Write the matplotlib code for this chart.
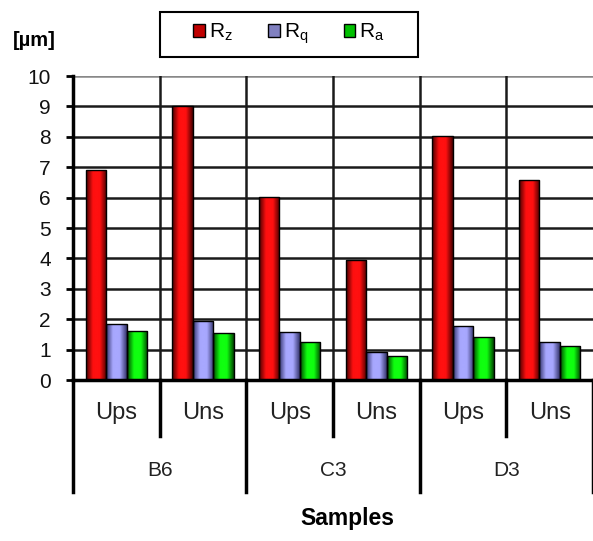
#!/usr/bin/env python3
"""
Roughness parameters Rz, Rq, Ra per sample (Ups / Uns) as grouped bars.
"""

import numpy as np
import matplotlib.pyplot as plt
from matplotlib.colors import LinearSegmentedColormap
from matplotlib.patches import Patch, Rectangle
from matplotlib.transforms import blended_transform_factory

plt.rcParams["font.family"] = ["Liberation Sans", "DejaVu Sans"]

# ---- data ----
SAMPLES = ["B6", "C3", "D3"]
SIDES = ["Ups", "Uns"]
RZ = [6.9, 9.0, 6.02, 3.95, 8.03, 6.58]
RQ = [1.84, 1.93, 1.58, 0.92, 1.78, 1.25]
RA = [1.6, 1.55, 1.25, 0.79, 1.41, 1.12]
SERIES_LABELS = [r"$\mathregular{R_z}$", r"$\mathregular{R_q}$", r"$\mathregular{R_a}$"]
Y_TICKS = list(range(0, 11))

# (edge colour, centre colour) for the cylinder-like shading
SHADES = [
    ("#4a0000", "#ff1010"),
    ("#34346c", "#a8a8ff"),
    ("#004400", "#10ff10"),
]
LEGEND_FACE = ["#c00000", "#8080c0", "#00c000"]


def shade_bar(ax, bar, edge, centre):
    cmap = LinearSegmentedColormap.from_list("s", [edge, centre, centre, edge])
    grad = np.linspace(0, 1, 64).reshape(1, -1)
    x0, y0 = bar.get_x(), bar.get_y()
    w, h = bar.get_width(), bar.get_height()
    im = ax.imshow(grad, cmap=cmap, extent=[x0, x0 + w, y0, y0 + h],
                   aspect="auto", zorder=3, interpolation="bicubic")
    im.set_clip_path(bar)


def main():
    fig = plt.figure(figsize=(5.93, 5.41), dpi=100)
    ax = fig.add_axes([73 / 593, 1 - 380 / 541, 520 / 593, 304 / 541])

    n = len(RZ)
    x = np.arange(n)
    width = 0.235
    series = [RZ, RQ, RA]
    for i, vals in enumerate(series):
        bars = ax.bar(x + (i - 1) * width, vals, width, color=SHADES[i][1],
                      edgecolor="black", linewidth=1.0, zorder=4)
        for b in bars:
            b.set_facecolor("none")
            shade_bar(ax, b, *SHADES[i])

    ax.set_xlim(-0.5, n - 0.5)
    ax.set_ylim(0, 10)
    ax.set_yticks(Y_TICKS)
    ax.tick_params(axis="y", direction="out", length=5, width=2,
                   labelsize=15, pad=11, labelcolor="#111111")
    ax.set_xticks([])

    # grid
    for yv in Y_TICKS[1:]:
        ax.axhline(yv, color="#1a1a1a" if yv < 10 else "#888888",
                   lw=1.8, zorder=1)
    for e in np.arange(0.5, n - 0.5, 1.0):
        ax.axvline(e, color="#1a1a1a", lw=1.8, zorder=1)

    for s in ["top", "right"]:
        ax.spines[s].set_visible(False)
    ax.spines["left"].set_linewidth(2.5)
    ax.spines["bottom"].set_linewidth(2.5)
    ax.spines["left"].set_zorder(6)
    ax.spines["bottom"].set_zorder(6)

    # two-level category axis below the plot
    tr = blended_transform_factory(ax.transData, ax.transAxes)
    short = -56 / 304
    long_ = -112 / 304
    for k in range(n + 1):
        e = k - 0.5
        y_end = long_ if k % 2 == 0 else short
        ax.plot([e, e], [0, y_end], transform=tr, color="black",
                lw=2.5, clip_on=False, zorder=6)
    for k in range(n):
        ax.text(k, -33 / 304, SIDES[k % 2], transform=tr, ha="center",
                va="center", fontsize=17, color="#222222")
    for j, name in enumerate(SAMPLES):
        ax.text(2 * j + 0.5, -91 / 304, name, transform=tr, ha="center",
                va="center", fontsize=15, color="#222222")

    fig.text(347 / 593, 1 - 518 / 541, "Samples", ha="center",
             va="center", fontsize=16.5, fontweight="bold")
    fig.text(13 / 593, 1 - 40 / 541, "[µm]", ha="left", va="center",
             fontsize=14.5, fontweight="bold")

    # legend with a hand-placed frame
    fig.patches.append(Rectangle((160 / 593, 1 - 57 / 541), 258 / 593,
                                 45 / 541, transform=fig.transFigure,
                                 facecolor="white", edgecolor="black",
                                 lw=1.5, zorder=0))
    handles = [Patch(facecolor=LEGEND_FACE[i], edgecolor="black", lw=1.0)
               for i in range(3)]
    fig.legend(handles, SERIES_LABELS, loc="center",
               bbox_to_anchor=(289 / 593, 1 - 34 / 541), ncol=3,
               fontsize=15, frameon=False,
               handlelength=0.55, handleheight=0.55, handletextpad=0.2,
               columnspacing=1.7, borderpad=0.2)

    fig.savefig("out.png", dpi=100)


if __name__ == "__main__":
    main()
